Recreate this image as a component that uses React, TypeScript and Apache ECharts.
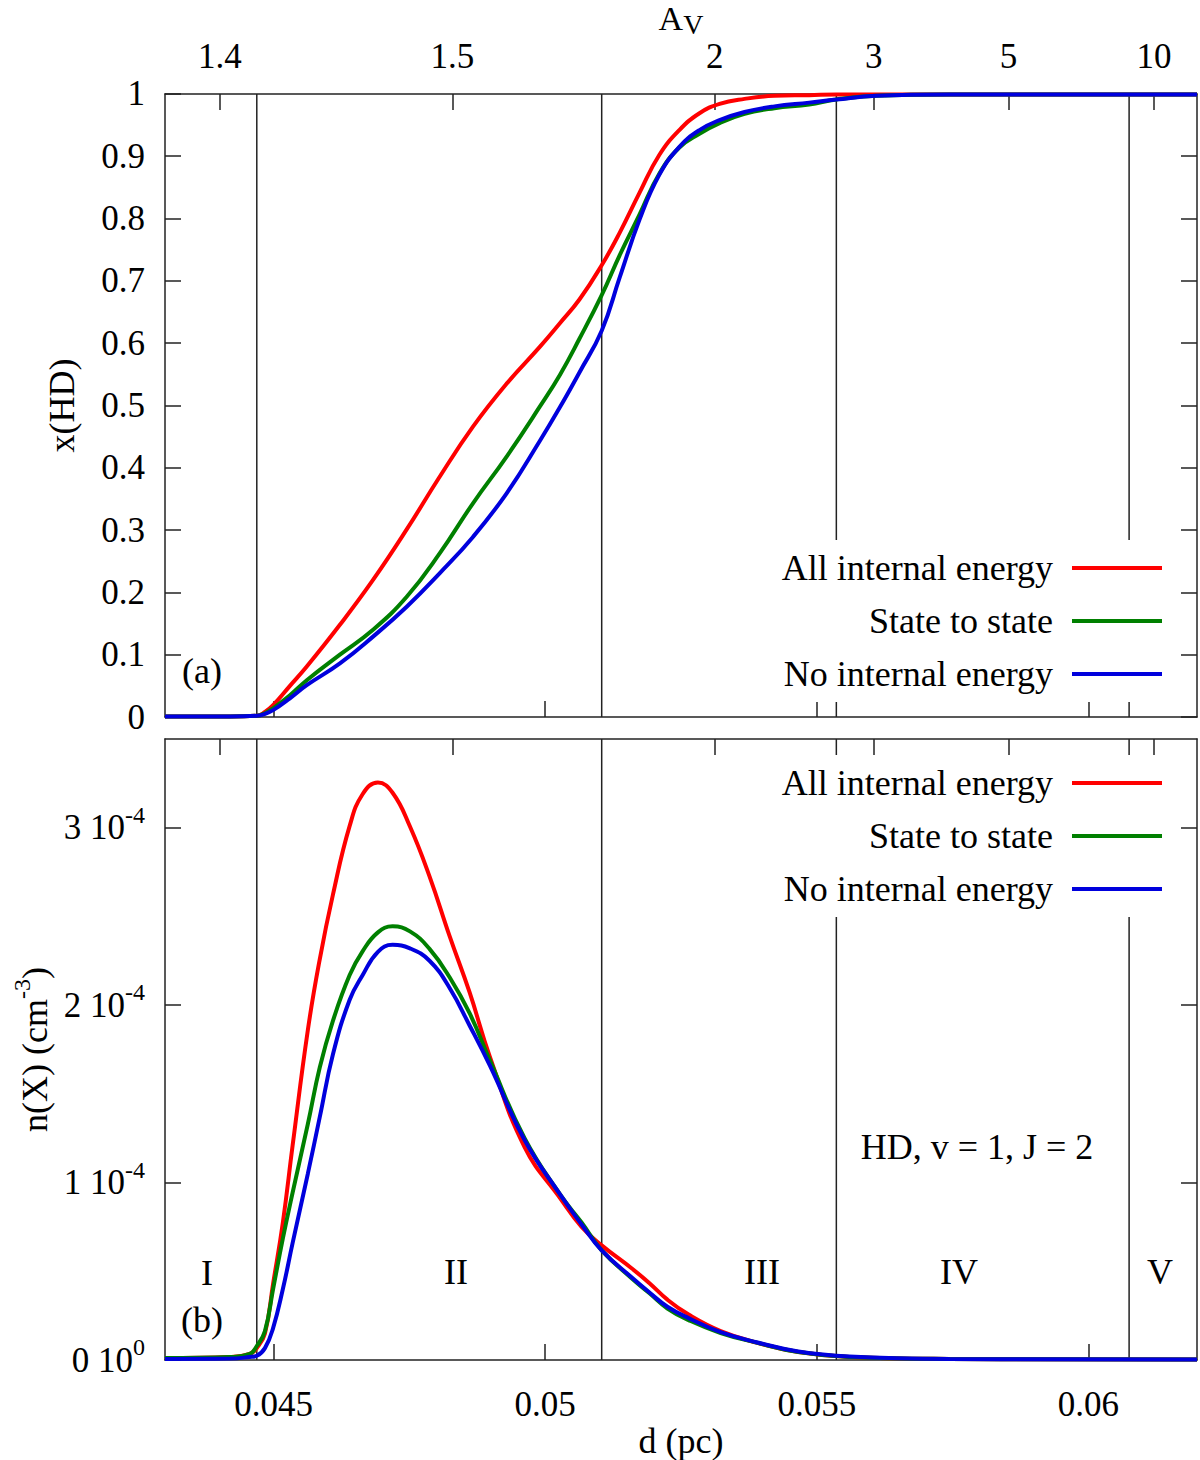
import React, { useEffect, useRef } from "react";
import * as echarts from "echarts";

const FONT = "Liberation Serif";

// ---- shared x axis: d (pc)
const dTicks = [0.045, 0.05, 0.055, 0.06];
const dTickLabels = ["0.045", "0.05", "0.055", "0.06"];
// ---- top axis: A_V (positions in d)
const avTickPos = [0.04401, 0.04829, 0.05312, 0.05605, 0.05853, 0.06121];
const avTickLabels = ["1.4", "1.5", "2", "3", "5", "10"];
// ---- region boundaries (d, pc)
const regionBounds = [0.04469, 0.05104, 0.05536, 0.06075];
// ---- bottom y axis ticks (units of 1e-4 cm^-3)
const nTicks = [0, 1, 2, 3];
const nTickMant = ["0", "1", "2", "3"];
const nTickExp = ["0", "-4", "-4", "-4"];

const seriesNames = ["All internal energy", "State to state", "No internal energy"];
const seriesColors = ["#ff0000", "#008000", "#0000dd"];

// ---- panel (a): x(HD)
const dTop = [0.043, 0.0442, 0.04469, 0.04484, 0.04499, 0.0453, 0.04561, 0.04622, 0.04683, 0.04745, 0.04806, 0.04867, 0.04929, 0.0499, 0.05027, 0.05063, 0.05104, 0.05137, 0.05174, 0.0521, 0.05247, 0.05284, 0.05321, 0.05367, 0.05422, 0.05486, 0.05536, 0.0561, 0.05744, 0.05928, 0.062];
const xhdAll = [0.001, 0.001, 0.002, 0.008, 0.019, 0.05, 0.081, 0.148, 0.22, 0.301, 0.386, 0.466, 0.535, 0.594, 0.632, 0.67, 0.725, 0.777, 0.842, 0.902, 0.942, 0.969, 0.984, 0.992, 0.997, 0.998, 0.999, 0.999, 0.999, 0.999, 0.999];
const xhdState = [0.001, 0.001, 0.002, 0.006, 0.014, 0.035, 0.059, 0.1, 0.14, 0.193, 0.263, 0.343, 0.418, 0.498, 0.549, 0.607, 0.677, 0.741, 0.807, 0.872, 0.914, 0.936, 0.953, 0.968, 0.977, 0.983, 0.991, 0.997, 0.999, 0.999, 0.999];
const xhdNone = [0.001, 0.001, 0.002, 0.005, 0.011, 0.03, 0.051, 0.086, 0.129, 0.177, 0.231, 0.289, 0.359, 0.443, 0.497, 0.553, 0.62, 0.705, 0.799, 0.87, 0.915, 0.942, 0.958, 0.971, 0.98, 0.986, 0.991, 0.997, 0.999, 0.999, 0.999];

// ---- panel (b): n(X) in units of 1e-4 cm^-3
const dBot = [0.043, 0.0442, 0.04456, 0.04469, 0.04484, 0.04499, 0.04517, 0.04535, 0.04563, 0.04585, 0.04609, 0.0464, 0.04664, 0.04692, 0.04719, 0.04751, 0.04787, 0.04824, 0.04861, 0.04898, 0.04962, 0.05028, 0.05067, 0.05104, 0.05159, 0.05192, 0.05225, 0.05264, 0.05323, 0.05389, 0.05466, 0.0556, 0.05744, 0.062];
const nAll = [0.011, 0.017, 0.034, 0.067, 0.15, 0.43, 0.775, 1.21, 1.86, 2.26, 2.62, 3.01, 3.19, 3.255, 3.197, 3.007, 2.726, 2.389, 2.07, 1.71, 1.2, 0.91, 0.75, 0.646, 0.517, 0.433, 0.34, 0.256, 0.163, 0.098, 0.045, 0.017, 0.006, 0.003];
const nState = [0.011, 0.017, 0.034, 0.079, 0.163, 0.4, 0.685, 0.944, 1.33, 1.65, 1.91, 2.17, 2.305, 2.41, 2.444, 2.416, 2.317, 2.157, 1.953, 1.69, 1.25, 0.93, 0.775, 0.618, 0.46, 0.376, 0.29, 0.225, 0.152, 0.098, 0.045, 0.017, 0.006, 0.003];
const nNone = [0.006, 0.008, 0.017, 0.024, 0.067, 0.18, 0.4, 0.66, 1.05, 1.37, 1.72, 2.03, 2.17, 2.3, 2.34, 2.32, 2.25, 2.097, 1.884, 1.66, 1.24, 0.93, 0.764, 0.618, 0.466, 0.38, 0.3, 0.236, 0.157, 0.1, 0.048, 0.02, 0.006, 0.003];

const pairs = (xs: number[], ys: number[]) => xs.map((x, i) => [x, ys[i]]);
const lookup = (vals: number[], labels: string[], v: number) => {
  const i = vals.findIndex((p) => Math.abs(p - v) < 1e-7);
  return i >= 0 ? labels[i] : "";
};

const AX = "#222";
const axisLine = { show: true, onZero: false, lineStyle: { color: AX, width: 1.5 } };
const tickBase = { inside: true, length: 16, lineStyle: { color: AX, width: 1.5 } };
const X_MIN = 0.043;
const X_MAX = 0.062;

function buildOption() {
  const curveSeries = (xi: number, yi: number, xs: number[], ysList: number[][]) =>
    ysList.map((ys, k) => ({
      type: "line",
      name: seriesNames[k],
      xAxisIndex: xi,
      yAxisIndex: yi,
      data: pairs(xs, ys),
      smooth: 0.45,
      symbol: "none",
      silent: true,
      z: 3,
      itemStyle: { color: seriesColors[k] },
      lineStyle: { color: seriesColors[k], width: 4 },
    }));
  const boundSeries = (xi: number, yi: number, top: number) =>
    regionBounds.map((b) => ({
      type: "line",
      name: "region",
      xAxisIndex: xi,
      yAxisIndex: yi,
      data: [[b, 0], [b, top]],
      symbol: "none",
      silent: true,
      z: 1,
      itemStyle: { color: AX },
      lineStyle: { color: AX, width: 1.5 },
    }));
  const legendBase = {
    orient: "vertical",
    align: "right",
    right: 24,
    itemWidth: 90,
    itemHeight: 4,
    itemGap: 17,
    icon: "rect",
    selectedMode: false,
    backgroundColor: "#fff",
    padding: [10, 14, 10, 12],
    data: seriesNames,
    textStyle: { fontSize: 36, fontFamily: FONT, color: "#000", padding: [0, 14, 0, 0] },
  };
  const text = (x: number, y: number, s: string) => ({
    type: "text",
    x,
    y,
    z: 10,
    style: { text: s, fontSize: 36, fontFamily: FONT, fill: "#000", align: "center", verticalAlign: "middle" },
  });

  return {
    animation: false,
    backgroundColor: "#fff",
    textStyle: { fontFamily: FONT, fontSize: 36, color: "#000" },
    grid: [
      { left: 165, top: 93, width: 1032, height: 624 },
      { left: 165, top: 739, width: 1032, height: 623 },
    ],
    xAxis: [
      {
        type: "value", gridIndex: 0, position: "bottom", min: X_MIN, max: X_MAX,
        axisLine, splitLine: { show: false },
        axisTick: { ...tickBase, customValues: dTicks },
        axisLabel: { show: false },
      },
      {
        type: "value", gridIndex: 0, position: "top", min: X_MIN, max: X_MAX,
        axisLine, splitLine: { show: false },
        axisTick: { ...tickBase, customValues: avTickPos },
        axisLabel: {
          customValues: avTickPos, margin: 20, fontSize: 35, fontFamily: FONT, color: "#000",
          formatter: (v: number) => lookup(avTickPos, avTickLabels, v),
        },
        name: "{a|A}{v|V}", nameLocation: "middle", nameGap: 54,
        nameTextStyle: {
          rich: {
            a: { fontSize: 34, fontFamily: FONT, color: "#000" },
            v: { fontSize: 28, fontFamily: FONT, color: "#000", padding: [12, 0, 0, 0] },
          },
        },
      },
      {
        type: "value", gridIndex: 1, position: "bottom", min: X_MIN, max: X_MAX,
        axisLine, splitLine: { show: false },
        axisTick: { ...tickBase, customValues: dTicks },
        axisLabel: {
          customValues: dTicks, margin: 27, fontSize: 35, fontFamily: FONT, color: "#000",
          formatter: (v: number) => lookup(dTicks, dTickLabels, v),
        },
        name: "d (pc)", nameLocation: "middle", nameGap: 63,
        nameTextStyle: { fontSize: 36, fontFamily: FONT, color: "#000" },
      },
      {
        type: "value", gridIndex: 1, position: "top", min: X_MIN, max: X_MAX,
        axisLine, splitLine: { show: false },
        axisTick: { ...tickBase, customValues: avTickPos },
        axisLabel: { show: false },
      },
    ],
    yAxis: [
      {
        type: "value", gridIndex: 0, position: "left", min: 0, max: 1, interval: 0.1,
        axisLine, splitLine: { show: false }, axisTick: tickBase,
        axisLabel: {
          margin: 20, fontSize: 35, fontFamily: FONT, color: "#000",
          formatter: (v: number) => String(Math.round(v * 10) / 10),
        },
        name: "x(HD)", nameLocation: "middle", nameGap: 85, nameRotate: 90,
        nameTextStyle: { fontSize: 36, fontFamily: FONT, color: "#000" },
      },
      {
        type: "value", gridIndex: 0, position: "right", min: 0, max: 1, interval: 0.1,
        axisLine, splitLine: { show: false }, axisTick: tickBase, axisLabel: { show: false },
      },
      {
        type: "value", gridIndex: 1, position: "left", min: 0, max: 3.5,
        axisLine, splitLine: { show: false },
        axisTick: { ...tickBase, customValues: nTicks },
        axisLabel: {
          customValues: nTicks, margin: 20,
          formatter: (v: number) => {
            const i = nTicks.findIndex((t) => Math.abs(t - v) < 1e-7);
            return i >= 0 ? `{m|${nTickMant[i]} 10}{e|${nTickExp[i]}}` : "";
          },
          rich: {
            m: { fontSize: 35, fontFamily: FONT, color: "#000" },
            e: { fontSize: 24, fontFamily: FONT, color: "#000", padding: [0, 0, 26, 0] },
          },
        },
        name: "{m|n(X) (cm}{e|-3}{m|)}", nameLocation: "middle", nameGap: 103, nameRotate: 90,
        nameTextStyle: {
          rich: {
            m: { fontSize: 36, fontFamily: FONT, color: "#000" },
            e: { fontSize: 24, fontFamily: FONT, color: "#000", padding: [0, 0, 26, 0] },
          },
        },
      },
      {
        type: "value", gridIndex: 1, position: "right", min: 0, max: 3.5,
        axisLine, splitLine: { show: false },
        axisTick: { ...tickBase, customValues: nTicks }, axisLabel: { show: false },
      },
    ],
    legend: [
      { ...legendBase, top: 540 },
      { ...legendBase, top: 755 },
    ],
    series: [
      ...boundSeries(0, 0, 1),
      ...boundSeries(2, 2, 3.5),
      ...curveSeries(0, 0, dTop, [xhdAll, xhdState, xhdNone]),
      ...curveSeries(2, 2, dBot, [nAll, nState, nNone]),
    ],
    graphic: [
      text(202, 671, "(a)"),
      text(202, 1320, "(b)"),
      text(207, 1273, "I"),
      text(456, 1272, "II"),
      text(762, 1272, "III"),
      text(959, 1272, "IV"),
      text(1160, 1272, "V"),
      text(977, 1147, "HD, v = 1, J = 2"),
    ],
  };
}

export default function App() {
  const ref = useRef<HTMLDivElement>(null);
  useEffect(() => {
    if (!ref.current) return;
    const chart = echarts.init(ref.current, null, { renderer: "svg" });
    chart.setOption(buildOption() as any);
    return () => chart.dispose();
  }, []);
  return (
    <div
      ref={ref}
      style={{ position: "absolute", left: 0, top: 0, width: 1200, height: 1460, background: "#fff" }}
    />
  );
}
